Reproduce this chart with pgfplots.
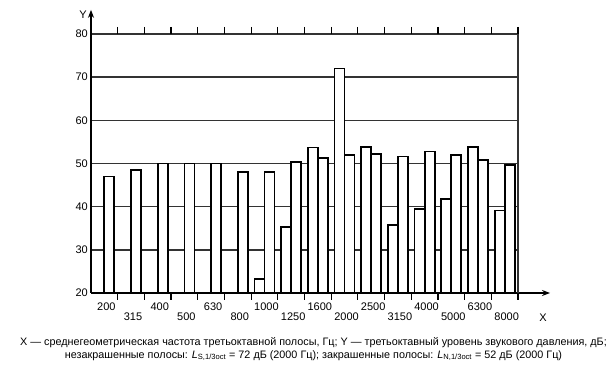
\documentclass[border=0pt]{standalone}
\usepackage{pgfplots}
\pgfplotsset{compat=1.18}
\usepackage{fontspec}
\setmainfont{Liberation Sans}
\usetikzlibrary{arrows.meta}
\usepackage{pgfplotstable}
\definecolor{gridgray}{gray}{0.2}

% band index, value
\pgfplotstableread{
x y
6 23.3
7 35.2
8 53.7
9 72.0
10 53.9
11 35.7
12 39.5
13 41.7
14 53.9
15 39.1
}\sbars
\pgfplotstableread{
x y
0 47.0
1 48.5
2 50.0
3 50.0
4 50.0
5 48.0
6 48.0
7 50.3
8 51.3
9 52.0
10 52.2
11 51.6
12 52.8
13 52.0
14 50.9
15 49.6
}\nbars

\begin{document}
\begin{tikzpicture}[x=1pt,y=1pt]
\path[use as bounding box] (0,0) rectangle (615,371);
\begin{axis}[
  at={(91pt,78pt)}, anchor=south west,
  scale only axis, width=427pt, height=259pt,
  xmin=-0.5, xmax=15.5, ymin=20, ymax=80,
  axis line style={draw=none},
  ytick={20,30,...,80},
  ymajorgrids, grid style={gridgray, line width=1.5pt},
  major tick length=0pt,
  xtick={0,2,...,14},
  xticklabels={200,400,630,1000,1600,2500,4000,6300},
  extra x ticks={1,3,...,15},
  extra x tick labels={315,500,800,1250,2000,3150,5000,8000},
  extra x tick style={major tick length=0pt, xticklabel style={yshift=-10pt}, grid=none},
  minor xtick={0.5,1.5,...,15.5},
  minor tick length=7pt, tick align=outside,
  minor tick style={black, line width=1.2pt},
  xticklabel style={anchor=north, inner sep=0pt, yshift=-10pt, xshift=2pt, font=\fontsize{11}{12}\selectfont},
  yticklabel style={anchor=east, inner sep=0pt, xshift=-3pt, font=\fontsize{11}{12}\selectfont},
  /pgf/number format/assume math mode=true,
  ybar, bar width=0.375,
]
\addplot[draw=black, fill=white, line width=1.8pt, bar shift=-0.1875] table[x=x,y=y] {\sbars};
\addplot[draw=black, fill=white, line width=1.8pt, bar shift=0.1875] table[x=x,y=y] {\nbars};
\coordinate (O) at (axis cs:-0.5,20);
\coordinate (YT) at (axis cs:-0.5,85.6);
\coordinate (XT) at (axis cs:16.7,20);
\coordinate (RB) at (axis cs:15.5,20);
\coordinate (RT) at (axis cs:15.5,80);
\end{axis}
\draw[black, line width=1.4pt, -{Stealth[length=8pt,width=6pt]}] (O) -- (YT);
\draw[black, line width=1.4pt, -{Stealth[length=8pt,width=6pt]}] (O) -- (XT);
\draw[gridgray, line width=1.5pt] (RB) -- (RT);
\node[font=\fontsize{11}{12}\selectfont] at (83,356) {Y};
\node[font=\fontsize{11}{12}\selectfont] at (543,53) {X};
\node[font=\fontsize{10.8}{12}\selectfont] at (313.5,28) {X — среднегеометрическая частота третьоктавной полосы, Гц; Y — третьоктавный уровень звукового давления, дБ;};
\node[font=\fontsize{10.8}{12}\selectfont] at (313.5,15.5) {незакрашенные полосы: {\itshape L}\textsubscript{S,1/3oct} = 72 дБ (2000 Гц); закрашенные полосы: {\itshape L}\textsubscript{N,1/3oct} = 52 дБ (2000 Гц)};
\end{tikzpicture}
\end{document}
